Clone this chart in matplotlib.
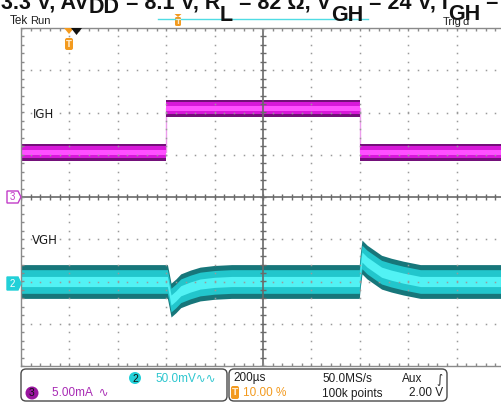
import numpy as np
import matplotlib.pyplot as plt
from matplotlib import font_manager
from matplotlib.transforms import Affine2D
from matplotlib.patches import FancyBboxPatch, Polygon, Circle

W, H = 502, 404

# scope settings
t_per_div = 200.0      # us / div
igh_per_div = 5.0      # mA / div (ch3)
vgh_per_div = 50.0     # mV / div (ch2)
ch3_offset = 0         # div
ch2_offset = -2        # div

# IGH trace, centre of the noise band (mA)
igh_t = [0, 600, 600, 1400, 1400, 2000]
igh_ma = [5.3, 5.3, 10.5, 10.5, 5.3, 5.3]
igh_noise = 1.0        # mA, half width of band

# VGH trace, AC coupled, centre of the noise band (mV)
vgh_t = [0, 605, 612, 620, 640, 660, 700, 740, 800, 870,
         1398, 1402, 1409, 1430, 1460, 1490, 1530, 1580, 1650, 2000]
vgh_mv = [0, 0, -10, -22, -17, -11, -6.5, -3, -1, 0,
          0, 13, 29, 23, 17, 11, 7.5, 4, 0, 0]
vgh_noise = 20.0       # mV, half width of band

# title text pieces and their baseline (px from top)
title_parts = ["3.3 V, AV", "DD", " = 8.1 V, R", "L", " = 82 Ω, V", "GH", " = 24 V, I", "GH", " = 5 mA"]
title_base = [8.5, 13, 8.5, 21, 8.5, 21, 8.5, 20, 8.5]

names = {f.name for f in font_manager.fontManager.ttflist}
tek_font = 'Liberation Sans Narrow' if 'Liberation Sans Narrow' in names else 'Liberation Sans'

fig = plt.figure(figsize=(W / 100, H / 100), dpi=100)
fig.patch.set_facecolor('white')
px = Affine2D().scale(1, -1).translate(0, H)   # pixel coords, origin top-left

rect = [21 / W, 1 - 366 / H, 484 / W, 338 / H]
ax_i = fig.add_axes(rect)
ax_v = fig.add_axes(rect)
ax_g = fig.add_axes(rect)
for a in (ax_i, ax_v, ax_g):
    a.set_xlim(0, 10 * t_per_div)
    a.set_xticks([])
    a.set_yticks([])
    a.set_facecolor('none')
ax_i.set_ylim((-4 - ch3_offset) * igh_per_div, (4 - ch3_offset) * igh_per_div)
ax_v.set_ylim((-4 - ch2_offset) * vgh_per_div, (4 - ch2_offset) * vgh_per_div)
ax_g.set_ylim(-4, 4)
for a in (ax_i, ax_v):
    for s in a.spines.values():
        s.set_visible(False)
for k in ('left', 'top', 'bottom'):
    ax_g.spines[k].set_color('#8a8a8a')
    ax_g.spines[k].set_linewidth(1)
ax_g.spines['right'].set_visible(False)


def band(a, t, c, hw, cols, edge_col):
    c = np.asarray(c, dtype=float)
    a.plot(t, c, color=edge_col, lw=1, zorder=1)
    for frac, col in zip((1.0, 0.7, 0.3), cols):
        a.fill_between(t, c - frac * hw, c + frac * hw, color=col, lw=0, zorder=2)


band(ax_i, igh_t, igh_ma, igh_noise, ('#74107a', '#d818da', '#ff50ff'), '#ec9cec')
band(ax_v, vgh_t, vgh_mv, vgh_noise, ('#17767a', '#22c6cc', '#52f2f4'), '#52f2f4')

# graticule
gc = '#9a9a9a'
dots_x = np.arange(0, 10 * t_per_div + 1, t_per_div / 5)
dots_y = np.arange(-4, 4.01, 0.2)
for k in range(1, 10):
    if k != 5:
        ax_g.plot([k * t_per_div] * len(dots_y), dots_y, ls='none', marker='s', ms=1.1, mew=0, color=gc)
for j in (-3, -2, -1, 1, 2, 3):
    ax_g.plot(dots_x, [j] * len(dots_x), ls='none', marker='s', ms=1.1, mew=0, color=gc)
cc = '#6a6a6a'
ax_g.axvline(5 * t_per_div, color=cc, lw=1.2)
ax_g.axhline(0, color=cc, lw=1.2)
ax_g.plot([5 * t_per_div] * len(dots_y), dots_y, ls='none', marker='_', ms=4.5, mew=1, color=cc)
ax_g.plot(dots_x, [0] * len(dots_x), ls='none', marker='|', ms=4.5, mew=1, color=cc)
ax_g.plot([0] * len(dots_y), dots_y, ls='none', marker='_', ms=4.5, mew=1, color='#8a8a8a')
ax_g.plot(dots_x, [4] * len(dots_x), ls='none', marker='|', ms=4.5, mew=1, color='#8a8a8a')
ax_g.plot(dots_x, [-4] * len(dots_x), ls='none', marker='|', ms=4.5, mew=1, color='#8a8a8a')

# trace labels
fig.text(33, 114, 'IGH', transform=px, fontsize=8.5, va='center', color='#1a1a1a')
fig.text(32, 241, 'VGH', transform=px, fontsize=8.5, va='center', color='#1a1a1a')

# channel ground markers
fig.add_artist(Polygon([(7, 191), (18, 191), (21, 197), (18, 203), (7, 203)], closed=True,
                       transform=px, fc='white', ec='#c23cc8', lw=1))
fig.text(12.5, 197.5, '3', transform=px, fontsize=7, ha='center', va='center', color='#c23cc8', family=tek_font)
fig.add_artist(Polygon([(7, 277), (18, 277), (21, 283.5), (18, 290), (7, 290)], closed=True,
                       transform=px, fc='#22d0d8', ec='#22d0d8', lw=1))
fig.text(12.5, 284, '2', transform=px, fontsize=7, ha='center', va='center', color='white', family=tek_font)

# title (cut at the top of the screenshot)
r = fig.canvas.get_renderer()
x = 1
for s, yb in zip(title_parts, title_base):
    t = fig.text(x, yb, s, transform=px, fontsize=15.5, weight='bold', va='baseline', ha='left',
                 family='Liberation Sans', color='#111111')
    x += t.get_window_extent(renderer=r).width

# scope header
fig.text(10, 21, 'Tek', transform=px, fontsize=8.5, va='center', color='#222222', family=tek_font)
fig.text(30, 21, 'Run', transform=px, fontsize=8, va='center', color='#222222', family=tek_font)
fig.text(443, 22, "Trig'd", transform=px, fontsize=8, va='center', color='#222222', family=tek_font)
fig.add_artist(plt.Line2D([158, 368], [19, 19], transform=px, color='#50dce4', lw=1))
fig.add_artist(Polygon([(174.5, 14), (181.5, 14), (178, 17)], closed=True, transform=px, fc='#f39a1e', ec='none'))
fig.add_artist(FancyBboxPatch((175, 17), 6, 9, boxstyle='round,pad=0,rounding_size=1.5',
                              transform=px, fc='#f39a1e', ec='none'))
fig.text(178, 21.8, 'T', transform=px, fontsize=5, ha='center', va='center', color='#ffe9c8', weight='bold')

# trigger position marker
fig.add_artist(Polygon([(64, 28), (74, 28), (69, 34)], closed=True, transform=px, fc='#f39a1e', ec='none'))
fig.add_artist(Polygon([(71, 28), (82, 28), (76.5, 35)], closed=True, transform=px, fc='#111111', ec='none'))
fig.add_artist(FancyBboxPatch((65, 38), 8, 12, boxstyle='round,pad=0,rounding_size=2',
                              transform=px, fc='#f39a1e', ec='none'))
fig.text(69, 44.3, 'T', transform=px, fontsize=6, ha='center', va='center', color='#ffe9c8', weight='bold')

# bottom readout boxes
for x0, x1 in ((21, 227), (229, 447)):
    fig.add_artist(FancyBboxPatch((x0, 369), x1 - x0, 32, boxstyle='round,pad=0,rounding_size=5',
                                  transform=px, fc='white', ec='#4a4a4a', lw=1))
fig.add_artist(Circle((135, 378), 6, transform=px, fc='#22d0d8', ec='none'))
fig.text(135, 378.5, '2', transform=px, fontsize=7.5, ha='center', va='center', color='#111111', family=tek_font)
fig.text(155, 378.5, '50.0mV∿∿', transform=px, fontsize=8.5, va='center', color='#2cc6cf', family=[tek_font, 'DejaVu Sans'])
fig.add_artist(Circle((32, 393), 6.5, transform=px, fc='#99159f', ec='none'))
fig.text(32, 393.5, '3', transform=px, fontsize=7.5, ha='center', va='center', color='#111111', family=tek_font)
fig.text(52, 393.5, '5.00mA  ∿', transform=px, fontsize=8.5, va='center', color='#a82ab4', family=[tek_font, 'DejaVu Sans'])

tc = '#1e1e1e'
fig.text(233, 378.5, '200µs', transform=px, fontsize=8.5, va='center', color=tc, family=tek_font)
fig.text(322, 378.5, '50.0MS/s', transform=px, fontsize=8.5, va='center', color=tc, family=tek_font)
fig.text(402, 378.5, 'Aux', transform=px, fontsize=8.5, va='center', color=tc, family=tek_font)
fig.text(436, 378.5, '∫', transform=px, fontsize=8.5, va='center', color=tc, family='DejaVu Sans', style='italic')
fig.add_artist(FancyBboxPatch((231, 386), 8, 13, boxstyle='round,pad=0,rounding_size=2',
                              transform=px, fc='#f39a1e', ec='none'))
fig.text(235, 392.8, 'T', transform=px, fontsize=6.5, ha='center', va='center', color='#ffe9c8', weight='bold')
fig.text(243, 393.5, '10.00 %', transform=px, fontsize=8.5, va='center', color='#f39a1e', family=tek_font)
fig.text(322, 393.5, '100k points', transform=px, fontsize=8.5, va='center', color=tc, family=tek_font)
fig.text(443, 393.5, '2.00 V', transform=px, fontsize=8.5, va='center', ha='right', color=tc, family=tek_font)

fig.savefig('out.png', dpi=100)
